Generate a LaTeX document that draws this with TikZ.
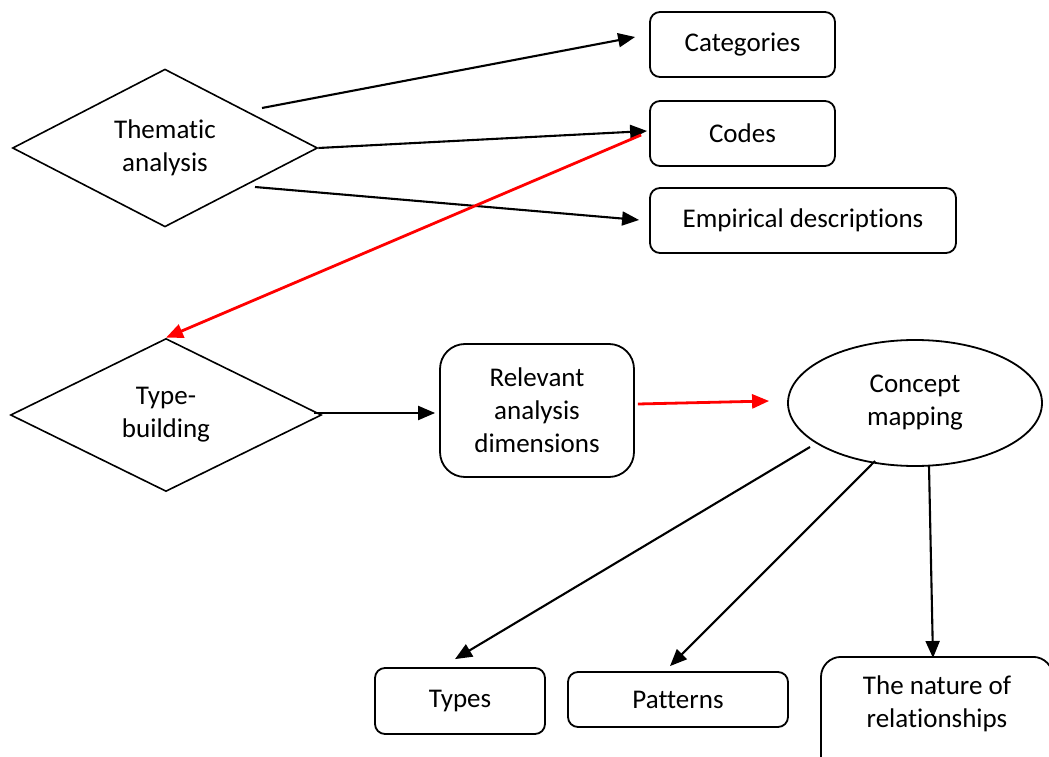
\documentclass[tikz,border=0pt]{standalone}
\usepackage{fontspec}
\setmainfont{Carlito}[Ligatures=NoCommon]
\usetikzlibrary{shapes.geometric,arrows.meta}
\begin{document}
\begin{tikzpicture}[x=1pt,y=1pt,
  every node/.style={font=\fontsize{27}{33}\selectfont, align=center},
  decision/.style={draw, diamond, line width=1.6pt, inner sep=0pt},
  box/.style={draw, rectangle, rounded corners=10pt, line width=1.8pt, inner sep=0pt},
  oval/.style={draw, ellipse, line width=1.8pt, inner sep=0pt},
  conn/.style={line width=2.1pt, -{Triangle[length=17pt,width=14pt]}},
  redconn/.style={conn, red, line width=2.8pt}]
\clip (0,0) rectangle (1049,756);

% upper stage: thematic analysis and its outputs
\node[decision, minimum width=305pt, minimum height=155pt] (them) at (165,608) {Thematic\\analysis};
\node[box, minimum width=185pt, minimum height=65pt] (cat) at (742.5,711.5) {Categories};
\node[box, minimum width=185pt, minimum height=65pt] (codes) at (742.5,622.5) {Codes};
\node[box, minimum width=306pt, minimum height=65pt] (emp) at (803,535.5) {Empirical descriptions};

% lower stage: type-building
\node[decision, minimum width=311pt, minimum height=153pt] (type) at (166,341) {Type-\\building};
\node[box, rounded corners=25pt, minimum width=194pt, minimum height=133pt] (rel) at (537,345.5) {Relevant\\analysis\\dimensions};
\node[oval, minimum width=254pt, minimum height=126pt] (con) at (915,353) {Concept\\mapping};

% results of concept mapping
\node[box, minimum width=170pt, minimum height=66pt] (types) at (460,55) {Types};
\node[box, minimum width=220pt, minimum height=55pt] (patt) at (678,56.5) {Patterns};
\node[box, rounded corners=20pt, minimum width=232pt, minimum height=130pt, anchor=north] (nat) at (937,100) {};
\node[anchor=center] (natlbl) at ([yshift=-48pt]nat.north) {The nature of\\relationships};

% connectors
\draw[conn] ([shift={(97,40)}]them.center) -- ([shift={(-14,7.5)}]cat.west);
\draw[conn] (them.east) -- ([shift={(-2,2.5)}]codes.west);
\draw[conn] ([shift={(90,-39)}]them.center) -- ([shift={(-10,0.5)}]emp.west);
\draw[redconn] ([shift={(-8,-1.5)}]codes.west) -- (type.north);
\draw[conn] ([shift={(-8,2)}]type.east) -- ([shift={(-4,-2.5)}]rel.west);
\draw[redconn] ([shift={(3,6.5)}]rel.east) -- ([shift={(-18,2)}]con.west);
\draw[conn] ([shift={(-105,-44)}]con.center) -- ([shift={(-5,8)}]types.north);
\draw[conn] ([shift={(-40,-58)}]con.center) -- ([shift={(-8,5)}]patt.north);
\draw[conn] ([shift={(14,-63)}]con.center) -- ([shift={(-4,-2)}]nat.north);
\end{tikzpicture}
\end{document}
